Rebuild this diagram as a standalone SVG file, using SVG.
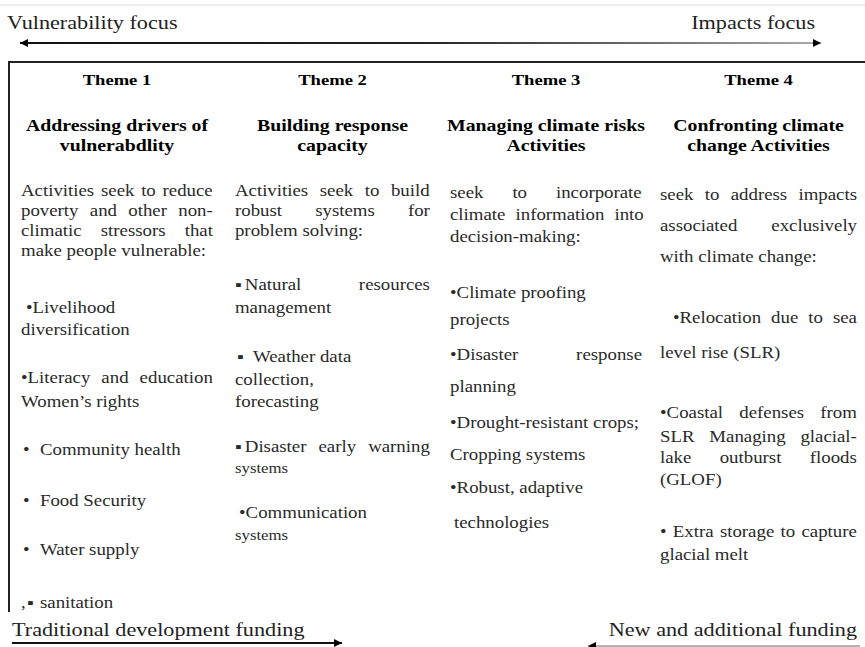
<svg xmlns="http://www.w3.org/2000/svg" width="865" height="647" viewBox="0 0 865 647">
<style>
text{font-family:"Liberation Serif","Times New Roman",serif;fill:#2a2a2a}
.b{font-size:15.7px}
.s{font-size:14px}
.h{font-size:15.5px;font-weight:bold;fill:#000;text-anchor:middle}
.t{font-size:16.5px;font-weight:bold;fill:#000;text-anchor:middle}
.e{font-size:18.5px;fill:#222}
.end{text-anchor:end}
</style>
<defs>
<linearGradient id="fade" gradientUnits="userSpaceOnUse" x1="20" y1="0" x2="821" y2="0">
<stop offset="0" stop-color="#111"/>
<stop offset="0.5" stop-color="#222"/>
<stop offset="1" stop-color="#aaa"/>
</linearGradient>
<marker id="ah" viewBox="0 0 10 10" refX="10" refY="5" markerWidth="9" markerHeight="8" markerUnits="userSpaceOnUse" orient="auto-start-reverse">
<path d="M0,0 L10,5 L0,10 z" fill="#000"/>
</marker>
</defs>
<rect width="865" height="647" fill="#fff"/>
<line x1="0" y1="5" x2="865" y2="5" stroke="#e8e8e8" stroke-width="1.5"/>

<g id="frame" fill="none" stroke="#222" stroke-width="2">
<path d="M8,62 H865 M9,62 V612"/>
</g>

<g id="connectors" fill="none">
<line x1="20" y1="43" x2="821" y2="43" stroke="url(#fade)" stroke-width="2" marker-start="url(#ah)" marker-end="url(#ah)"/>
<line x1="12" y1="643" x2="342" y2="643" stroke="#111" stroke-width="2" marker-end="url(#ah)"/>
<line x1="860" y1="646" x2="588" y2="646" stroke="#999" stroke-width="1.5" marker-end="url(#ah)"/>
</g>

<g id="labels" transform="scale(1.2 1)">
<text class="e" x="5.8" y="29">Vulnerability focus</text>
<text class="e end" x="679.2" y="29">Impacts focus</text>
<text class="e" x="10" y="636">Traditional development funding</text>
<text class="e end" x="714.2" y="636">New and additional funding</text>
</g>

<g id="theme1" transform="scale(1.2 1)">
<text class="h" x="97.5" y="85">Theme 1</text>
<text class="t" x="97.5" y="131">Addressing drivers of</text>
<text class="t" x="97.5" y="151">vulnerabdlity</text>
<text class="b" x="17.5" y="196" word-spacing="1.7">Activities seek to reduce</text>
<text class="b" x="17.5" y="216" word-spacing="5.5">poverty and other non-</text>
<text class="b" x="17.5" y="236" word-spacing="12">climatic stressors that</text>
<text class="b" x="17.5" y="256">make people vulnerable:</text>
<text class="b" x="21.7" y="313">•Livelihood</text>
<text class="b" x="17.5" y="335">diversification</text>
<text class="b" x="17.5" y="383" word-spacing="5.3">•Literacy and education</text>
<text class="b" x="17.5" y="407">Women’s rights</text>
<text class="b" y="455"><tspan x="19.2">•</tspan><tspan x="33.3">Community health</tspan></text>
<text class="b" y="506"><tspan x="19.2">•</tspan><tspan x="33.3">Food Security</tspan></text>
<text class="b" y="555"><tspan x="19.2">•</tspan><tspan x="33.3">Water supply</tspan></text>
<text class="b" y="608"><tspan x="17.5">,</tspan><tspan x="22.5">▪</tspan><tspan x="33.3">sanitation</tspan></text>
</g>

<g id="theme2" transform="scale(1.2 1)">
<text class="h" x="277.1" y="85">Theme 2</text>
<text class="t" x="277.1" y="131">Building response</text>
<text class="t" x="277.1" y="151">capacity</text>
<text class="b" x="195.8" y="196" word-spacing="5.7">Activities seek to build</text>
<text class="b" x="195.8" y="216" word-spacing="23.7">robust systems for</text>
<text class="b" x="195.8" y="236">problem solving:</text>
<text class="b" x="195.8" y="290">▪</text>
<text class="b" x="204" y="290">Natural</text>
<text class="b end" x="358.3" y="290">resources</text>
<text class="b" x="195.8" y="313">management</text>
<text class="b" y="362"><tspan x="197.5">▪</tspan><tspan x="210.8">Weather data</tspan></text>
<text class="b" x="195.8" y="385">collection,</text>
<text class="b" x="195.8" y="407">forecasting</text>
<text class="b" x="195.8" y="452">▪</text>
<text class="b" x="204" y="452" word-spacing="6.1">Disaster early warning</text>
<text class="s" x="195.8" y="473">systems</text>
<text class="b" x="199.2" y="518">•Communication</text>
<text class="s" x="195.8" y="540">systems</text>
</g>

<g id="theme3" transform="scale(1.2 1)">
<text class="h" x="455" y="85">Theme 3</text>
<text class="t" x="455" y="131">Managing climate risks</text>
<text class="t" x="455" y="151">Activities</text>
<text class="b" x="375" y="198" word-spacing="20.2">seek to incorporate</text>
<text class="b" x="375" y="220" word-spacing="4.5">climate information into</text>
<text class="b" x="375" y="242">decision-making:</text>
<text class="b" x="375" y="298">•Climate proofing</text>
<text class="b" x="375" y="325">projects</text>
<text class="b" x="375" y="360">•Disaster</text>
<text class="b end" x="535" y="360">response</text>
<text class="b" x="375" y="392">planning</text>
<text class="b" x="375" y="428">•Drought-resistant crops;</text>
<text class="b" x="375" y="460">Cropping systems</text>
<text class="b" x="375" y="493">•Robust, adaptive</text>
<text class="b" x="378.3" y="528">technologies</text>
</g>

<g id="theme4" transform="scale(1.2 1)">
<text class="h" x="632.1" y="85">Theme 4</text>
<text class="t" x="632.1" y="131">Confronting climate</text>
<text class="t" x="632.1" y="151">change Activities</text>
<text class="b" x="550" y="200" word-spacing="5.5">seek to address impacts</text>
<text class="b" x="550" y="231">associated</text>
<text class="b end" x="714.2" y="231">exclusively</text>
<text class="b" x="550" y="262">with climate change:</text>
<text class="b" x="560.8" y="323" word-spacing="4.4">•Relocation due to sea</text>
<text class="b" x="550" y="358">level rise (SLR)</text>
<text class="b" x="550" y="418" word-spacing="9.6">•Coastal defenses from</text>
<text class="b" x="550" y="442" word-spacing="8.4">SLR Managing glacial-</text>
<text class="b" x="550" y="463" word-spacing="19.7">lake outburst floods</text>
<text class="b" x="550" y="485">(GLOF)</text>
<text class="b" x="550" y="537" word-spacing="1.3">• Extra storage to capture</text>
<text class="b" x="550" y="560">glacial melt</text>
</g>
</svg>
